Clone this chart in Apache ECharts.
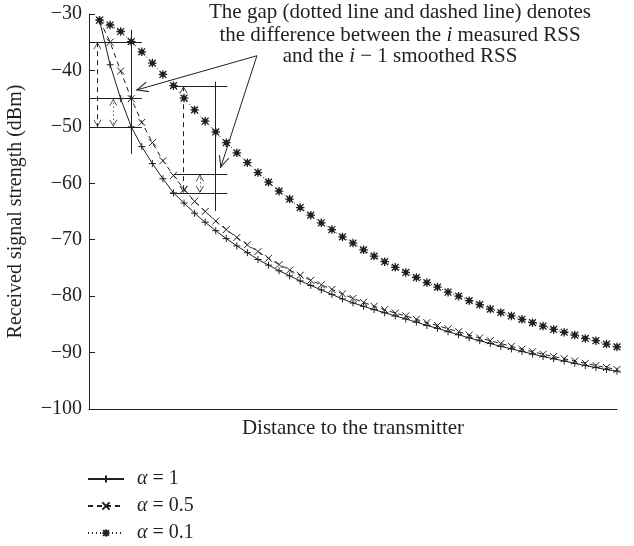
<!DOCTYPE html>
<html><head><meta charset="utf-8">
<script src="https://cdn.jsdelivr.net/npm/echarts@6/dist/echarts.min.js"></script>
<style>html,body{margin:0;padding:0;background:#fff}#c{width:634px;height:546px}</style>
</head><body><div id="c"></div><script>
// Received signal strength (dBm) at successive distance steps (index 0..49)
const alpha1 = [-31.1,-39.0,-45.0,-50.0,-53.5,-56.5,-59.2,-61.7,-63.5,-65.3,
  -66.9,-68.4,-69.8,-71.1,-72.3,-73.5,-74.5,-75.5,-76.4,-77.3,
  -78.1,-78.9,-79.7,-80.5,-81.2,-81.8,-82.4,-82.95,-83.5,-84.05,
  -84.6,-85.2,-85.7,-86.3,-86.85,-87.4,-87.9,-88.4,-88.9,-89.35,
  -89.8,-90.25,-90.7,-91.1,-91.5,-91.9,-92.3,-92.65,-93.0,-93.3];
const alpha05 = [-31.1,-35.0,-40.1,-45.0,-49.2,-52.8,-56.0,-58.6,-61.1,-63.2,
  -65.0,-66.7,-68.2,-69.6,-70.9,-72.1,-73.3,-74.4,-75.4,-76.3,
  -77.2,-78.0,-78.8,-79.6,-80.4,-81.1,-81.8,-82.4,-83.0,-83.5,
  -84.1,-84.7,-85.2,-85.8,-86.3,-86.9,-87.4,-87.9,-88.4,-88.9,
  -89.4,-89.85,-90.3,-90.7,-91.1,-91.5,-91.9,-92.3,-92.65,-93.0];
const alpha01 = [-31.1,-31.95,-33.1,-34.9,-36.7,-38.7,-40.7,-42.7,-44.9,-47.0,
  -49.0,-50.9,-52.8,-54.6,-56.35,-58.1,-59.8,-61.4,-62.8,-64.3,
  -65.65,-67.0,-68.2,-69.5,-70.6,-71.8,-72.9,-73.9,-74.9,-75.8,
  -76.7,-77.6,-78.4,-79.3,-80.0,-80.8,-81.5,-82.3,-82.9,-83.5,
  -84.1,-84.7,-85.3,-85.9,-86.4,-86.9,-87.5,-87.9,-88.5,-89.0];
const seriesNames = ['α = 1', 'α = 0.5', 'α = 0.1'];
const yMin = -100, yMax = -30, yStep = 10;

// Annotation geometry in data units: [x1, y1, x2, y2]
const refLines = [
  [-1, -35, 4, -35], [-1, -45, 4, -45], [-1, -50, 4, -50], [3, -32.8, 3, -54.8],
  [7.1, -42.8, 12.1, -42.8], [7.1, -58.4, 12.1, -58.4], [6.7, -61.7, 12.1, -61.7], [11, -42.0, 11, -64.9]
];
const dashedArrows = [[-0.2, -35, -0.2, -50], [7.95, -42.8, 7.95, -61.7]];
const dottedArrows = [[1.3, -45, 1.3, -50], [9.5, -58.4, 9.5, -61.7]];
const pointerArrows = [[14.9, -37.4, 3.45, -43.5], [14.9, -37.4, 11.45, -57.3]];

const INK = '#231f20';
const FONT = 'Liberation Serif';
const chevron = 'path://M0,10L5,0L10,10L9,10L5,2L1,10Z';
const plusSym = 'path://M0,5L10,5M5,0L5,10';
const crossSym = 'path://M0,0L10,10M10,0L0,10';
const starSym = 'path://M0,5L10,5M5,0L5,10M1,1L9,9M9,1L1,9M3,3L7,3L7,7L3,7Z';

const toPairs = arr => arr.map((v, i) => [i, v]);
const seg = (s, startSym, endSym, size) => [
  {coord: [s[0], s[1]], symbol: startSym, symbolSize: size, symbolOffset: [0, size[1] / 2]},
  {coord: [s[2], s[3]], symbol: endSym, symbolSize: size, symbolOffset: [0, size[1] / 2]}
];
const markData = [];
refLines.forEach(s => markData.push(seg(s, 'none', 'none', [1, 1]).map(p => Object.assign(p, {lineStyle: {type: 'solid'}}))));
dashedArrows.forEach(s => markData.push(seg(s, chevron, chevron, [8, 7]).map(p => Object.assign(p, {lineStyle: {type: [5, 4]}}))));
dottedArrows.forEach(s => markData.push(seg(s, chevron, chevron, [8, 7]).map(p => Object.assign(p, {lineStyle: {type: [1, 3]}}))));
pointerArrows.forEach(s => markData.push(seg(s, 'none', chevron, [11, 12]).map(p => Object.assign(p, {lineStyle: {type: 'solid'}}))));

const chart = echarts.init(document.getElementById('c'), null, {renderer: 'canvas'});
const mkSeries = (name, data, sym, size, lineType, fill, bw) => ({
  name, type: 'line', data: toPairs(data), symbol: sym, symbolSize: size,
  showAllSymbol: true,
  lineStyle: {color: INK, width: 1, type: lineType},
  itemStyle: {color: fill, borderColor: INK, borderWidth: bw},
  emphasis: {disabled: true}
});
const txtFont = '21px "' + FONT + '"';
const itFont = 'italic 21px "' + FONT + '"';
chart.setOption({
  animation: false,
  grid: {left: 89, right: 17, top: 14, bottom: 137, containLabel: false, outerBoundsMode: 'none'},
  xAxis: {
    type: 'value', min: -1, max: 49,
    axisLine: {show: true, onZero: false, lineStyle: {color: INK, width: 1}},
    axisTick: {show: false}, axisLabel: {show: false}, splitLine: {show: false},
    name: 'Distance to the transmitter', nameLocation: 'middle', nameGap: 9, nameMoveOverlap: false,
    nameTextStyle: {fontFamily: FONT, fontSize: 21, color: INK, verticalAlign: 'top'}
  },
  yAxis: {
    type: 'value', min: yMin, max: yMax, interval: yStep,
    axisLine: {show: true, onZero: false, lineStyle: {color: INK, width: 1}},
    axisTick: {show: true, inside: true, length: 6, lineStyle: {color: INK}},
    splitLine: {show: false},
    axisLabel: {fontFamily: FONT, fontSize: 20, color: INK, margin: 7,
      formatter: v => '\u2212' + Math.abs(v)},
    name: 'Received signal strength (dBm)', nameLocation: 'middle', nameGap: 63, nameRotate: 90,
    nameMoveOverlap: false,
    nameTextStyle: {fontFamily: FONT, fontSize: 20, color: INK}
  },
  legend: {
    data: seriesNames, orient: 'vertical', left: 87, top: 469, padding: 0,
    itemWidth: 36, itemHeight: 9, itemGap: 7,
    textStyle: {fontFamily: FONT, fontSize: 20, color: INK, padding: [0, 0, 0, 8],
      rich: {i: {fontStyle: 'italic', fontFamily: FONT, fontSize: 20, color: INK}}},
    formatter: n => n.replace('α', '{i|α}'),
    selectedMode: false
  },
  graphic: [
    {type: 'text', silent: true, x: 400, y: 12,
      style: {text: 'The gap (dotted line and dashed line) denotes', align: 'center', verticalAlign: 'middle',
        font: txtFont, fill: INK}},
    {type: 'text', silent: true, x: 400, y: 35,
      style: {text: 'the difference between the {i|i} measured RSS', align: 'center', verticalAlign: 'middle',
        font: txtFont, fill: INK, rich: {i: {font: itFont}}}},
    {type: 'text', silent: true, x: 400, y: 56,
      style: {text: 'and the {i|i} \u2212 1 smoothed RSS', align: 'center', verticalAlign: 'middle',
        font: txtFont, fill: INK, rich: {i: {font: itFont}}}}
  ],
  series: [
    mkSeries(seriesNames[0], alpha1, plusSym, 7, 'solid', 'rgba(0,0,0,0)', 1),
    mkSeries(seriesNames[1], alpha05, crossSym, 7, [5, 4], 'rgba(0,0,0,0)', 1),
    mkSeries(seriesNames[2], alpha01, starSym, 8.5, [1, 3], INK, 1.3),
    {type: 'line', name: 'annot', data: [], silent: true,
      markLine: {silent: true, animation: false, label: {show: false},
        lineStyle: {color: INK, width: 1}, emphasis: {disabled: true},
        data: markData}}
  ]
});
</script></body></html>
